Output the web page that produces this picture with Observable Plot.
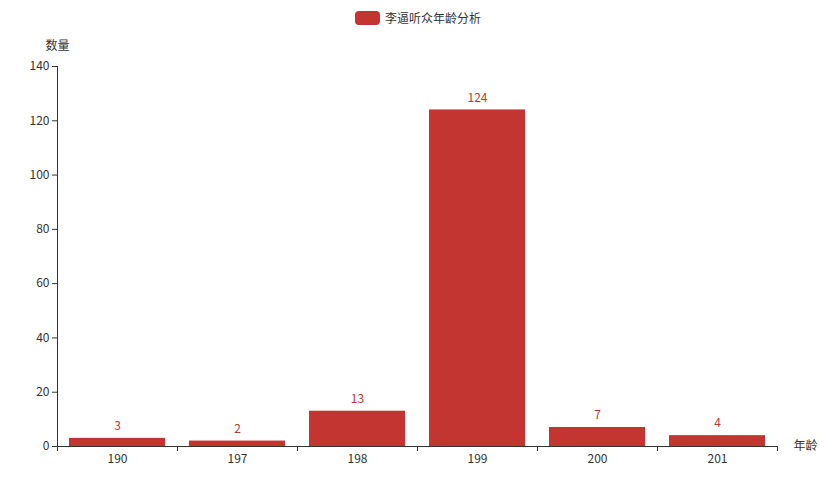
<!DOCTYPE html>
<html><head><meta charset="utf-8">
<script src="https://cdn.jsdelivr.net/npm/d3@7"></script>
<script src="https://cdn.jsdelivr.net/npm/@observablehq/plot@0.6"></script>
<style>
body{margin:0;background:#fff;font-family:"Noto Sans CJK SC","Microsoft YaHei",sans-serif;}
#wrap{position:relative;width:839px;height:480px;}
#legend{position:absolute;top:9px;left:355px;display:flex;align-items:center;font-size:12px;color:#333;}
#legend .sw{width:25px;height:14px;border-radius:4px;background:#c23531;margin-right:5px;}
</style></head>
<body>
<div id="wrap"><div id="legend"><span class="sw"></span><span>李逼听众年龄分析</span></div></div>
<script>
const categories = ["190","197","198","199","200","201"];
const counts = [3, 2, 13, 124, 7, 4];
const seriesName = "李逼听众年龄分析";
const yTicks = [0,20,40,60,80,100,120,140];

const data = categories.map((c,i)=>({cat:c, i, count:counts[i]}));
const color = "#c23531";
const chart = Plot.plot({
  width: 839, height: 480,
  marginTop: 66, marginBottom: 34, marginLeft: 57, marginRight: 62,
  style: {fontFamily: '"Noto Sans CJK SC","Microsoft YaHei",sans-serif', fontSize: "12px", color: "#333"},
  x: {type: "linear", domain: [0, categories.length]},
  y: {domain: [0, 140]},
  marks: [
    Plot.rectY(data, {x1: d=>d.i+0.1, x2: d=>d.i+0.9, y: "count", fill: color}),
    Plot.text(data, {x: d=>d.i+0.5, y: "count", text: d=>String(d.count), dy: -12, fill: color, fontSize: 12}),
    Plot.ruleY([0], {stroke: "#333"}),
    Plot.ruleX([0], {stroke: "#333"}),
    Plot.axisY({ticks: yTicks, tickSize: 5, tickPadding: 3, label: null, stroke: "#333", fill: "#333"}),
    Plot.axisX({ticks: d3.range(0, categories.length+1), tickSize: 5, tickFormat: ()=> "", label: null, stroke: "#333"}),
    Plot.axisX({ticks: categories.map((c,i)=>i+0.5), tickSize: 0, tickPadding: 8, tickFormat: v=>categories[Math.round(v-0.5)], label: null, fill: "#333"}),
    Plot.text([seriesName].map(()=>"数量"), {frameAnchor: "top-left", dy: -25, textAnchor: "middle", fill: "#333"}),
    Plot.text(["年龄"], {frameAnchor: "bottom-right", dx: 16, dy: 3, textAnchor: "start", fill: "#333"})
  ]
});
document.getElementById("wrap").prepend(chart);
chart.style.position = "absolute"; chart.style.left = "0"; chart.style.top = "0";
</script>
</body></html>
